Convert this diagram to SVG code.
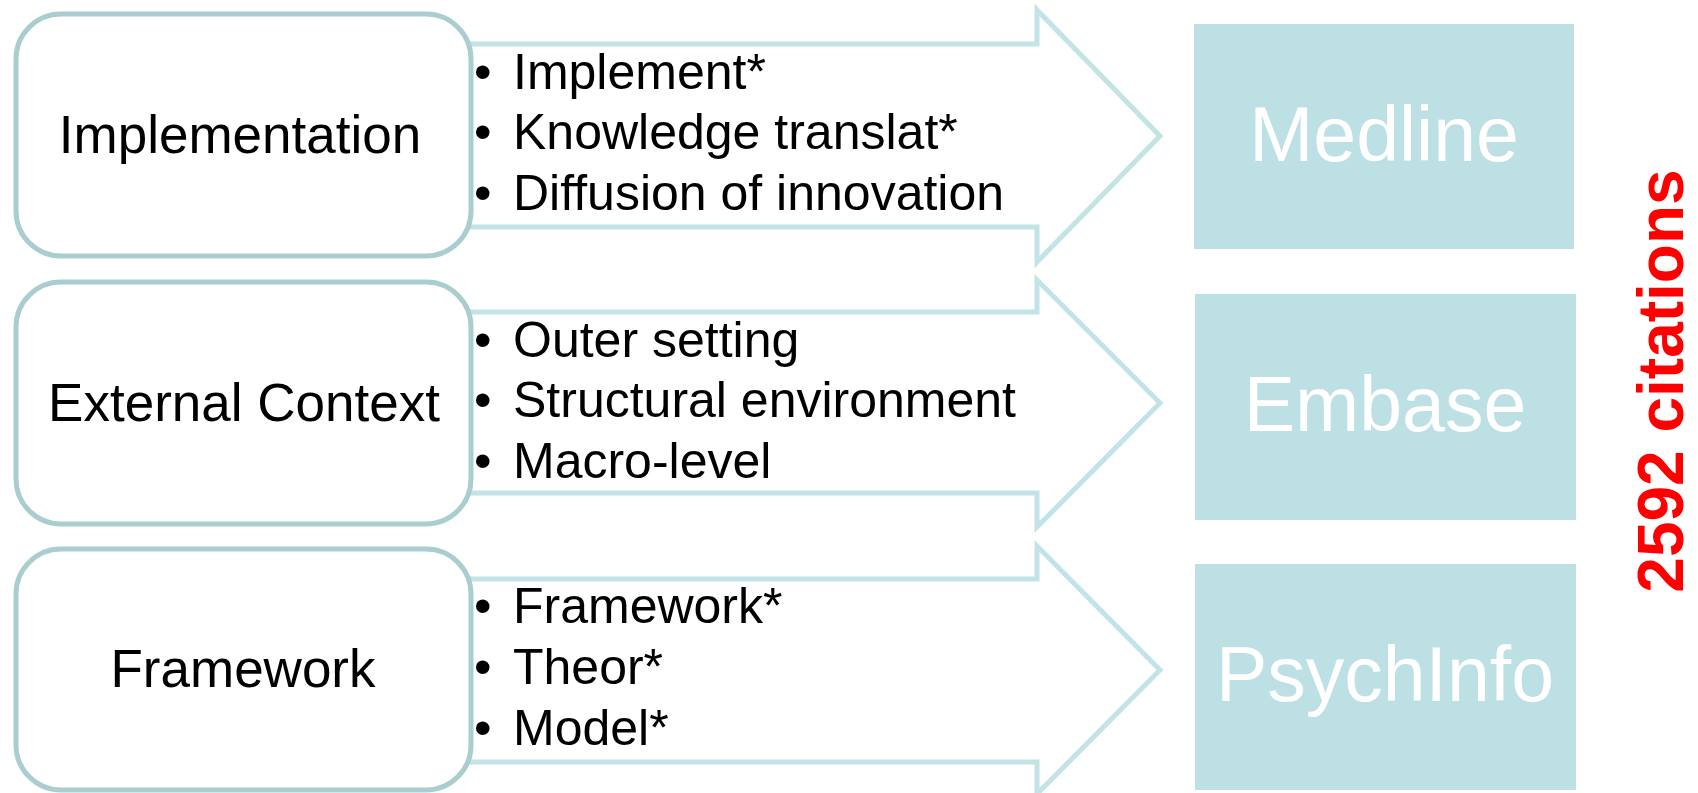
<svg xmlns="http://www.w3.org/2000/svg" width="1698" height="793" viewBox="0 0 1698 793">
<style>
.arrow{fill:#ffffff;stroke:#c2e4e6;stroke-width:5;stroke-linejoin:miter}
.box{fill:#ffffff;stroke:#aacdcf;stroke-width:5}
.db{fill:#bce0e3}
.lbl{font-family:"Liberation Sans",Arial,sans-serif;font-size:53px;fill:#000;text-anchor:middle}
.bul{font-family:"Liberation Sans",Arial,sans-serif;font-size:50px;fill:#000}
.dbt{font-family:"Liberation Sans",Arial,sans-serif;font-size:77px;fill:#ffffff;text-anchor:middle}
.cit{font-family:"Liberation Sans",Arial,sans-serif;font-size:64px;font-weight:bold;fill:#ff0000;text-anchor:middle}
</style>
<rect width="1698" height="793" fill="#ffffff"/>
<g id="connectors">
<path class="arrow" d="M300,44 H1037 V10 L1160,136 L1037,262 V227 H300 Z"/>
<path class="arrow" d="M300,312 H1037 V280 L1160,403 L1037,527 V493 H300 Z"/>
<path class="arrow" d="M300,579 H1037 V546 L1160,670 L1037,794 V762 H300 Z"/>
</g>
<g id="node-implementation">
<rect class="box" x="16" y="14" width="455" height="242" rx="45" ry="45"/>
<text class="lbl" x="240" y="153" font-size="53.5">Implementation</text>
</g>
<g id="node-external">
<rect class="box" x="16" y="282" width="455" height="242" rx="45" ry="45"/>
<text class="lbl" x="244" y="421">External Context</text>
</g>
<g id="node-framework">
<rect class="box" x="16" y="549" width="455" height="241" rx="45" ry="45"/>
<text class="lbl" x="243" y="687">Framework</text>
</g>
<g id="terms-implementation" class="bul">
<text x="474" y="89">•</text><text x="513" y="89">Implement*</text>
<text x="474" y="149">•</text><text x="513" y="149">Knowledge translat*</text>
<text x="474" y="210">•</text><text x="513" y="210">Diffusion of innovation</text>
</g>
<g id="terms-external" class="bul">
<text x="474" y="357">•</text><text x="513" y="357">Outer setting</text>
<text x="474" y="417">•</text><text x="513" y="417">Structural environment</text>
<text x="474" y="478">•</text><text x="513" y="478">Macro-level</text>
</g>
<g id="terms-framework" class="bul">
<text x="474" y="623">•</text><text x="513" y="623">Framework*</text>
<text x="474" y="684">•</text><text x="513" y="684">Theor*</text>
<text x="474" y="745">•</text><text x="513" y="745">Model*</text>
</g>
<g id="node-medline">
<rect class="db" x="1194" y="24" width="380" height="225"/>
<text class="dbt" x="1384" y="161">Medline</text>
</g>
<g id="node-embase">
<rect class="db" x="1195" y="294" width="381" height="226"/>
<text class="dbt" x="1385" y="431">Embase</text>
</g>
<g id="node-psychinfo">
<rect class="db" x="1195" y="564" width="381" height="226"/>
<text class="dbt" x="1385" y="701">PsychInfo</text>
</g>
<g id="citations">
<text class="cit" transform="translate(1683,381) rotate(-90)">2592 citations</text>
</g>
</svg>
